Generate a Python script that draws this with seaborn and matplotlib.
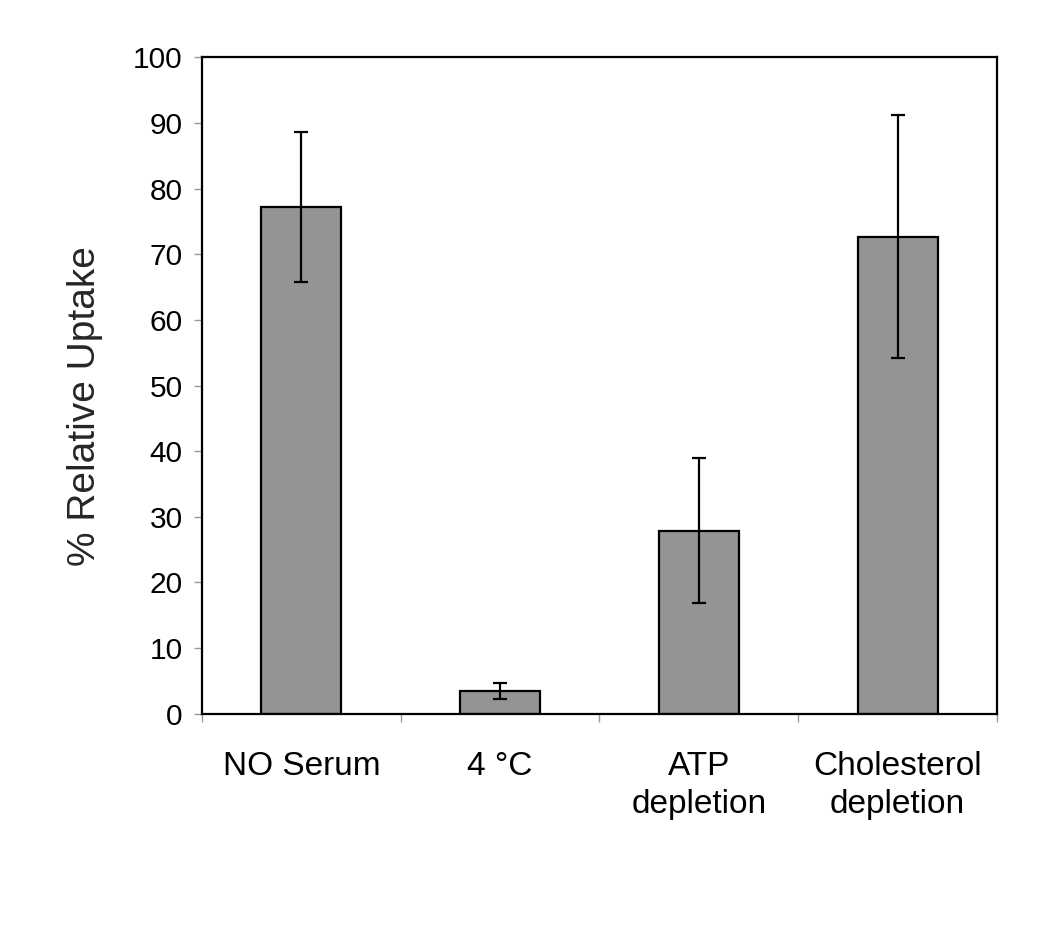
import matplotlib
matplotlib.use("Agg")
import matplotlib.pyplot as plt
import seaborn as sns
import pandas as pd
import numpy as np

categories = ["NO Serum", "4 °C", "ATP\ndepletion", "Cholesterol\ndepletion"]
uptake = [77.2, 3.5, 27.9, 72.7]
errors = [11.4, 1.2, 11.1, 18.5]
yticks = [0, 10, 20, 30, 40, 50, 60, 70, 80, 90, 100]

sns.set_theme(style="white")
plt.rcParams['font.family'] = ['Liberation Sans', 'DejaVu Sans']

df = pd.DataFrame({"cat": categories, "val": uptake})

fig = plt.figure(figsize=(10.5, 9.25), dpi=100)
ax = fig.add_axes([0.1924, 0.2284, 0.9495 - 0.1924, 0.938 - 0.2284])

sns.barplot(data=df, x="cat", y="val", ax=ax, color="#949494", saturation=1,
            width=0.403, edgecolor="black", linewidth=1.6, errorbar=None)
ax.errorbar(np.arange(len(categories)), uptake, yerr=errors, fmt="none",
            ecolor="black", elinewidth=1.6, capsize=5, capthick=1.6, zorder=5)

ax.set_xlim(-0.5, len(categories) - 0.5)
ax.set_ylim(0, 100)
ax.set_yticks(yticks)
ax.set_yticklabels([str(v) for v in yticks])
ax.set_xlabel("")
ax.set_ylabel("% Relative Uptake", fontsize=28)
ax.yaxis.set_label_coords(-0.125, 0.468)

for s in ax.spines.values():
    s.set_visible(True)
    s.set_color("black")
    s.set_linewidth(1.6)

ax.tick_params(axis="y", which="major", left=True, length=6, width=1, color="#999999",
               labelsize=21.5, pad=8, labelcolor="black")
ax.tick_params(axis="x", which="major", bottom=False, labelsize=24, pad=21,
               labelcolor="black")
for lbl in ax.get_xticklabels():
    lbl.set_linespacing(1.3)
ax.set_xticks(np.arange(-0.5, len(categories), 1.0), minor=True)
ax.tick_params(axis="x", which="minor", bottom=True, length=6, width=1,
               color="#999999", direction="out")
ax.grid(False)

fig.savefig("out.png", dpi=100, facecolor="white")
